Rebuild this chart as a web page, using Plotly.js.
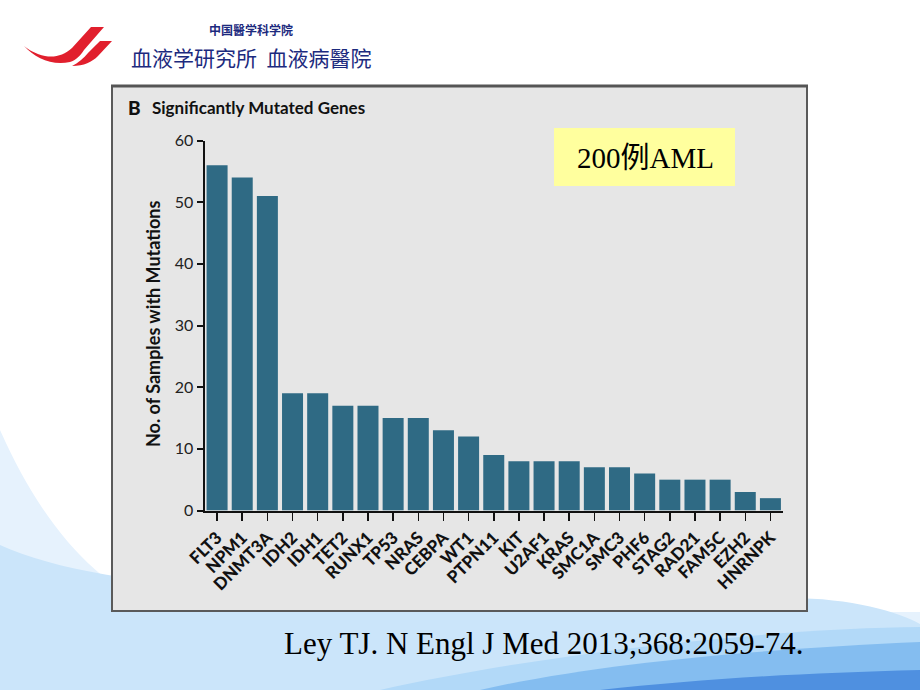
<!DOCTYPE html>
<html>
<head>
<meta charset="utf-8">
<script src="https://cdn.plot.ly/plotly-3.0.1.min.js"></script>
<style>html,body{margin:0;padding:0;background:#fff;}#chart{width:920px;height:690px;}</style>
</head>
<body>
<div id="chart"></div>
<script>
// ---- data ----
const genes = ["FLT3","NPM1","DNMT3A","IDH2","IDH1","TET2","RUNX1","TP53","NRAS","CEBPA","WT1","PTPN11","KIT","U2AF1","KRAS","SMC1A","SMC3","PHF6","STAG2","RAD21","FAM5C","EZH2","HNRNPK"];
const counts = [56,54,51,19,19,17,17,15,15,13,12,9,8,8,8,7,7,6,5,5,5,3,2];
const yTickVals = [0,10,20,30,40,50,60];
const yTickText = ["0","10","20","30","40","50","60"];
const chartTitleLetter = "B";
const chartTitle = "Significantly Mutated Genes";
const yTitle = "No. of Samples with Mutations";
const boxLabel = "200例AML";
const citation = "Ley TJ. N Engl J Med 2013;368:2059-74.";
const instSmall = "中国醫学科学院";
const instLarge = "血液学研究所  血液病醫院";

// ---- helpers (pixel -> paper, margins are zero) ----
const W = 920, H = 690;
const px = x => x / W;
const py = y => 1 - y / H;
function path(s) {
  const toks = s.trim().split(/\s+/);
  let out = [], isX = true;
  for (const t of toks) {
    if (/^[A-Za-z]$/.test(t)) { out.push(t); isX = true; continue; }
    const v = parseFloat(t);
    out.push(isX ? px(v).toFixed(5) : py(v).toFixed(5));
    isX = !isX;
  }
  return out.join(' ');
}
function shp(p, fill, extra) {
  return Object.assign({type:'path', xref:'paper', yref:'paper', path:path(p), fillcolor:fill, line:{width:0}, layer:'below'}, extra||{});
}

const shapes = [
  // slide background waves
  shp("M 0 430 C 40 520 90 580 160 612 L 920 612 L 920 690 L 0 690 Z", "#e6f2fd"),
  shp("M 0 545 C 120 600 400 600 790 598 C 850 598 900 612 920 624 L 920 690 L 0 690 Z", "#cbe5fa"),
  shp("M 380 690 C 550 652 780 628 920 627 L 920 690 Z", "#b2d9f8"),
  shp("M 480 690 C 600 662 780 648 920 642 L 920 690 Z", "#84bdf0"),
  shp("M 600 690 C 700 679 800 673 920 670 L 920 690 Z", "#4f90e0"),
  // logo swooshes
  shp("M 24 46 C 35 58 52 66 70 62 C 76 60 80 56 84 50 L 104 27 L 91 27 L 72 48 C 64 55 55 58 45 56 C 36 54 29 50 24 46 Z", "#e11f2d", {layer:'above'}),
  shp("M 72 66 C 84 66 92 62 98 56 L 112 41 L 100 41 L 88 53 C 84 58 78 63 72 66 Z", "#e11f2d", {layer:'above'}),
  // chart panel
  {type:'rect', xref:'paper', yref:'paper', x0:px(112), x1:px(807), y0:py(611), y1:py(86),
   fillcolor:'#e6e6e6', line:{color:'#5a5a5a', width:2}, layer:'below'},
  {type:'line', xref:'paper', yref:'paper', x0:px(111), x1:px(808), y0:py(86), y1:py(86),
   line:{color:'#555555', width:3}, layer:'below'},
  // yellow label box
  {type:'rect', xref:'paper', yref:'paper', x0:px(554), x1:px(735), y0:py(186), y1:py(128),
   fillcolor:'#ffff9e', line:{width:0}, layer:'below'}
];

const sansFont = 'Lato, "Open Sans", "DejaVu Sans", sans-serif';
const serifFont = '"Liberation Serif", "Noto Sans CJK SC", serif';
const cjkFont = '"Noto Sans CJK SC", sans-serif';

const annotations = [
  {text:chartTitleLetter, x:px(126), y:py(107), xanchor:'left', yanchor:'middle', xref:'paper', yref:'paper', showarrow:false,
   font:{family:sansFont, size:19, color:'#111', weight:900}},
  {text:chartTitle, x:px(150), y:py(107), xanchor:'left', yanchor:'middle', xref:'paper', yref:'paper', showarrow:false,
   font:{family:sansFont, size:17, color:'#111', weight:'bold'}},
  {text:yTitle, x:px(153), y:py(324), xanchor:'center', yanchor:'middle', xref:'paper', yref:'paper', showarrow:false, textangle:-90,
   font:{family:sansFont, size:18, color:'#111', weight:'bold'}},
  {text:boxLabel, x:px(645), y:py(158), xanchor:'center', yanchor:'middle', xref:'paper', yref:'paper', showarrow:false,
   font:{family:serifFont, size:29, color:'#000'}},
  {text:citation, x:px(544), y:py(643), xanchor:'center', yanchor:'middle', xref:'paper', yref:'paper', showarrow:false,
   font:{family:serifFont, size:31, color:'#000'}},
  {text:instSmall, x:px(251), y:py(30), xanchor:'center', yanchor:'middle', xref:'paper', yref:'paper', showarrow:false,
   font:{family:cjkFont, size:12, color:'#1c2a7e', weight:'bold'}},
  {text:instLarge, x:px(251), y:py(57), xanchor:'center', yanchor:'middle', xref:'paper', yref:'paper', showarrow:false,
   font:{family:cjkFont, size:21, color:'#1c2a7e'}}
];

const trace = {
  type:'bar', x:genes, y:counts,
  marker:{color:'#2f6a84', line:{width:0}},
  hoverinfo:'x+y'
};

const layout = {
  width:W, height:H,
  margin:{l:0, r:0, t:0, b:0, pad:0},
  paper_bgcolor:'#ffffff', plot_bgcolor:'rgba(0,0,0,0)',
  showlegend:false, bargap:0.165,
  xaxis:{domain:[px(204.5), px(783)], type:'category', automargin:false, fixedrange:true,
    tickangle:-45, ticks:'outside', ticklen:8, tickwidth:1.5, tickcolor:'#111',
    showline:true, linewidth:2.5, linecolor:'#111', showgrid:false, zeroline:false,
    tickfont:{family:sansFont, size:17, color:'#111', weight:900}},
  yaxis:{domain:[py(510.5), py(140.5)], range:[0,60], automargin:false, fixedrange:true,
    tickmode:'array', tickvals:yTickVals, ticktext:yTickText,
    ticks:'outside', ticklen:6, tickwidth:2, tickcolor:'#111',
    showline:true, linewidth:2, linecolor:'#111', showgrid:false, zeroline:false,
    tickfont:{family:sansFont, size:16, color:'#222'}},
  shapes:shapes,
  annotations:annotations
};

Plotly.newPlot('chart', [trace], layout, {displayModeBar:false, staticPlot:true});
</script>
</body>
</html>
